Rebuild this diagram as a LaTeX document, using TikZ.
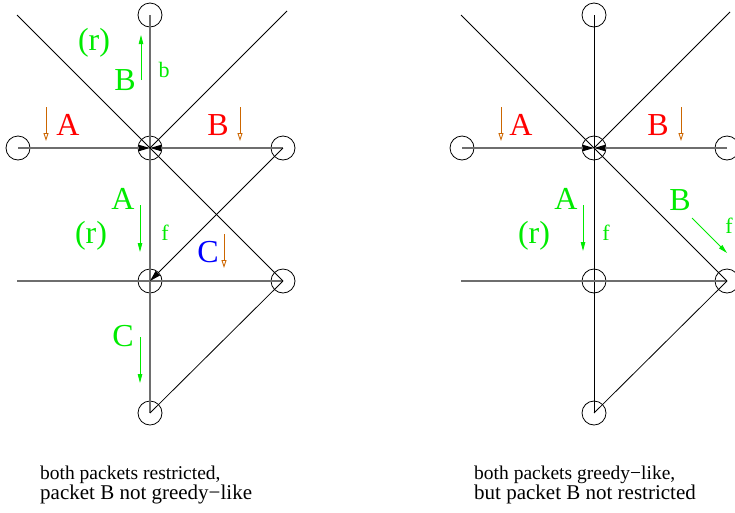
\documentclass[tikz,border=0pt]{standalone}
\usepackage{fontspec}
\setmainfont{Liberation Serif}
\usetikzlibrary{arrows.meta}
\definecolor{fgreen}{RGB}{0,235,0}
\definecolor{fred}{RGB}{255,0,0}
\definecolor{fblue}{RGB}{0,0,255}
\definecolor{forange}{RGB}{204,102,0}
\definecolor{fgray}{RGB}{110,110,110}
\tikzset{
  vtx/.style={circle,draw=black,line width=0.8pt,minimum size=24pt,inner sep=0pt},
  blackline/.style={draw=black,line width=0.8pt},
  grayline/.style={draw=fgray,line width=1.3pt},
  headin/.style={-{Triangle[length=11pt,width=6pt,color=black]}},
  biglab/.style={inner sep=0pt,font=\fontsize{32}{32}\selectfont},
  smalllab/.style={inner sep=0pt,text=fgreen,font=\fontsize{22}{22}\selectfont},
  greenarrow/.style={draw=fgreen,line width=0.9pt,-{Triangle[length=9pt,width=4.5pt]}},
  orangearrow/.style={draw=forange,line width=0.9pt,-{Triangle[open,length=8pt,width=5pt]}},
  captexta/.style={inner sep=0pt,anchor=base west,font=\fontsize{19.5}{20}\selectfont},
  captextb/.style={inner sep=0pt,anchor=base west,font=\fontsize{21}{20}\selectfont}
}
\begin{document}
\begin{tikzpicture}[x=1pt,y=-1pt]
\useasboundingbox (0,0) rectangle (735,512);

% ---------------- left diagram ----------------
\node[vtx] (Lc)  at (150,148) {};
\node[vtx] (Lt)  at (150,15) {};
\node[vtx] (Ll)  at (18,148) {};
\node[vtx] (Lr)  at (283,148) {};
\node[vtx] (Lm)  at (150,281) {};
\node[vtx] (Lmr) at (283,281) {};
\node[vtx] (Lb)  at (150,413) {};
\coordinate (Lul) at (17,15);
\coordinate (Lur) at (287,11);
\coordinate (Lml) at (17,281);

\draw[grayline] (Lt.center) -- (Lb.center);
\draw[grayline,headin] (Ll.center) -- (Lc.center);
\draw[grayline,headin] (Lr.center) -- (Lc.center);
\draw[grayline] (Lml) -- (Lmr.center);
\draw[blackline] (Lul) -- (Lc.center);
\draw[blackline] (Lur) -- (Lc.center);
\draw[blackline] (Lc.center) -- (Lmr.center);
\draw[blackline] (Lb.center) -- (Lmr.center);
\draw[blackline,-{Triangle[length=11pt,width=6pt]}] (Lr.center) -- (Lm.center);

% labels left
\node[biglab,text=fgreen] (Lr1) at (94,43) {(r)};
\node[biglab,text=fgreen] (LB1) at (125,80) {B};
\coordinate (LBa1) at (141,80); \coordinate (LBa2) at (141,35);
\draw[greenarrow] (LBa1) -- (LBa2);
\node[smalllab] (Lb1) at (164,70) {b};
\node[biglab,text=fred] (LA2) at (68,125) {A};
\coordinate (LAo1) at (46,107); \coordinate (LAo2) at (46,141);
\draw[orangearrow] (LAo1) -- (LAo2);
\node[biglab,text=fred] (LB2) at (218,125) {B};
\coordinate (LBo1) at (240,107); \coordinate (LBo2) at (240,141);
\draw[orangearrow] (LBo1) -- (LBo2);
\node[biglab,text=fgreen] (LA3) at (123,199) {A};
\coordinate (LAa1) at (140,205); \coordinate (LAa2) at (140,252);
\draw[greenarrow] (LAa1) -- (LAa2);
\node[smalllab] (Lf1) at (165,233) {f};
\node[biglab,text=fgreen] (Lr2) at (91,236) {(r)};
\node[biglab,text=fblue] (LC1) at (208,252) {C};
\coordinate (LCo1) at (224,234); \coordinate (LCo2) at (224,268);
\draw[orangearrow] (LCo1) -- (LCo2);
\node[biglab,text=fgreen] (LC2) at (123,336) {C};
\coordinate (LCa1) at (140,337); \coordinate (LCa2) at (140,383);
\draw[greenarrow] (LCa1) -- (LCa2);

% ---------------- right diagram ----------------
\node[vtx] (Rc)  at (594,148) {};
\node[vtx] (Rt)  at (594,15) {};
\node[vtx] (Rl)  at (462,148) {};
\node[vtx] (Rr)  at (727,148) {};
\node[vtx] (Rm)  at (594,281) {};
\node[vtx] (Rmr) at (727,281) {};
\node[vtx] (Rb)  at (594,413) {};
\coordinate (Rul) at (461,15);
\coordinate (Rur) at (730,12);
\coordinate (Rml) at (461,281);

\draw[blackline] (Rt.center) -- (Rb.center);
\draw[grayline,headin] (Rl.center) -- (Rc.center);
\draw[grayline,headin] (Rr.center) -- (Rc.center);
\draw[grayline] (Rml) -- (Rmr.center);
\draw[blackline] (Rul) -- (Rc.center);
\draw[blackline] (Rur) -- (Rc.center);
\draw[blackline] (Rc.center) -- (Rmr.center);
\draw[blackline] (Rb.center) -- (Rmr.center);

% labels right
\node[biglab,text=fred] (RA2) at (521,125) {A};
\coordinate (RAo1) at (501,107); \coordinate (RAo2) at (501,141);
\draw[orangearrow] (RAo1) -- (RAo2);
\node[biglab,text=fred] (RB2) at (658,125) {B};
\coordinate (RBo1) at (681,107); \coordinate (RBo2) at (681,141);
\draw[orangearrow] (RBo1) -- (RBo2);
\node[biglab,text=fgreen] (RA3) at (566,199) {A};
\coordinate (RAa1) at (583,205); \coordinate (RAa2) at (583,251);
\draw[greenarrow] (RAa1) -- (RAa2);
\node[smalllab] (Rf1) at (606,233) {f};
\node[biglab,text=fgreen] (Rr2) at (534,236) {(r)};
\node[biglab,text=fgreen] (RB3) at (680,200) {B};
\coordinate (RBa1) at (692,218); \coordinate (RBa2) at (727,253);
\draw[greenarrow] (RBa1) -- (RBa2);
\node[smalllab] (Rf2) at (729,226) {f};

% captions
\node[captexta] (cap1a) at (40,479) {both packets restricted,};
\node[captextb] (cap1b) at (40,499) {packet B not greedy\textminus like};
\node[captexta] (cap2a) at (474,479) {both packets greedy\textminus like,};
\node[captextb] (cap2b) at (474,499) {but packet B not restricted};
\end{tikzpicture}
\end{document}
